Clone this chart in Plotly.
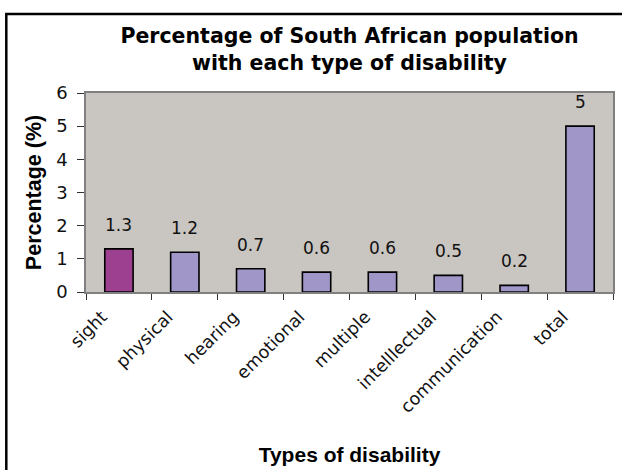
import plotly.graph_objects as go

categories = ["sight", "physical", "hearing", "emotional", "multiple",
              "intelllectual", "communication", "total"]
values = [1.3, 1.2, 0.7, 0.6, 0.6, 0.5, 0.2, 5]
value_labels = ["1.3", "1.2", "0.7", "0.6", "0.6", "0.5", "0.2", "5"]
bar_colors = ["#9E4090"] + ["#A096C8"] * 7
y_ticks = [0, 1, 2, 3, 4, 5, 6]

W, H = 622, 470
L, R, T, B = 86, 7, 93, 178
FONT = "DejaVu Sans"
AX_FONT = "Liberation Sans, Arial, sans-serif"

fig = go.Figure()
fig.add_trace(go.Bar(
    x=categories, y=values,
    marker=dict(color=bar_colors, line=dict(color="#000000", width=1.6)),
    width=0.43,
    hoverinfo="skip",
))

annotations = []
for c, v, t in zip(categories, values, value_labels):
    annotations.append(dict(x=c, y=v, xref="x", yref="y", text=t,
                            showarrow=False, yanchor="bottom", yshift=12,
                            font=dict(family=FONT, size=17, color="#111111")))

pw = W - L - R
ph = H - T - B
def px2x(p):
    return (p - L) / pw
def py2y(p):
    return 1 - (p - T) / ph

fig.update_layout(
    width=W, height=H,
    margin=dict(l=L, r=R, t=T, b=B),
    paper_bgcolor="#FFFFFF",
    plot_bgcolor="#C9C5C1",
    showlegend=False,
    title=dict(text="Percentage of South African population<br>with each type of disability",
               x=0.5, xref="paper", xanchor="center",
               y=1 - 43 / H, yref="container", yanchor="top",
               font=dict(family=FONT, size=20.5, color="#000000", weight="bold")),
    xaxis=dict(
        type="category",
        tickson="boundaries",
        ticks="outside", ticklen=6, tickcolor="#333333", tickwidth=1,
        tickangle=-45,
        ticklabelstandoff=6, ticklabelshift=-17,
        tickfont=dict(family=FONT, size=17.5, color="#111111"),
        showline=True, linecolor="#808080", linewidth=1.5, mirror=True,
        showgrid=False,
        title=dict(text="Types of disability", standoff=32,
                   font=dict(family=AX_FONT, size=21, color="#000000", weight="bold")),
    ),
    yaxis=dict(
        range=[0, 6],
        tickvals=y_ticks,
        ticks="outside", ticklen=7, tickcolor="#333333", tickwidth=1,
        ticklabelstandoff=6,
        tickfont=dict(family=FONT, size=18, color="#111111"),
        showline=True, linecolor="#808080", linewidth=1.5, mirror=True,
        showgrid=False, zeroline=False,
        title=dict(text="Percentage (%)", standoff=9,
                   font=dict(family=AX_FONT, size=21.5, color="#000000", weight="bold")),
    ),
    annotations=annotations,
    shapes=[dict(type="rect", xref="paper", yref="paper",
                 x0=px2x(6), x1=px2x(640), y0=py2y(490), y1=py2y(14),
                 line=dict(color="#000000", width=2.5), layer="above")],
    bargap=0.57,
)

fig.write_html("out.html",
               config={"displayModeBar": False},
               post_script="document.body.style.margin='0';document.body.style.padding='0';")
